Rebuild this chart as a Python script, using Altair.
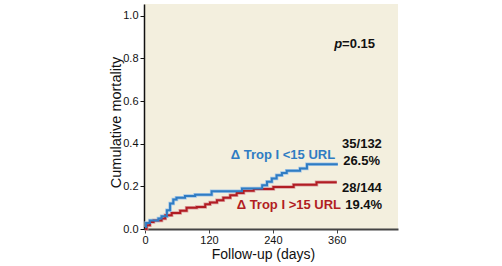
import altair as alt
import pandas as pd

# Step curves (day, cumulative mortality)
blue_days = [0, 2, 9, 25, 31, 41, 47, 53, 59, 75, 94, 125, 182, 220, 229, 238, 247, 257, 266, 291, 304, 362]
blue_vals = [0.009, 0.028, 0.040, 0.049, 0.060, 0.088, 0.119, 0.138, 0.147, 0.155, 0.161, 0.177, 0.190, 0.205, 0.221, 0.237, 0.252, 0.263, 0.273, 0.284, 0.304, 0.304]
red_days = [0, 3, 9, 16, 31, 38, 50, 66, 78, 97, 113, 122, 135, 147, 160, 172, 185, 204, 241, 279, 322, 360]
red_vals = [0.0, 0.017, 0.033, 0.040, 0.049, 0.064, 0.075, 0.085, 0.100, 0.103, 0.116, 0.124, 0.135, 0.147, 0.158, 0.169, 0.179, 0.188, 0.197, 0.208, 0.219, 0.219]

groups = ["Δ Trop I <15 URL", "Δ Trop I >15 URL"]
counts = ["35/132", "28/144"]
pcts = ["26.5%", "19.4%"]
x_ticks = [0, 120, 240, 360]
y_ticks = [0.0, 0.2, 0.4, 0.6, 0.8, 1.0]

BLUE = "#2f7cc3"
BLUE_HALO = "#a3c6e6"
RED = "#b11d23"
RED_HALO = "#dca0a0"
FONT = "Liberation Sans, Arial, sans-serif"

df_blue = pd.DataFrame({"day": blue_days, "val": blue_vals})
df_red = pd.DataFrame({"day": red_days, "val": red_vals})

xs = alt.Scale(domain=[-2, 475], nice=False, zero=False)
ys = alt.Scale(domain=[0, 1.055], nice=False)

x_axis = alt.Axis(values=x_ticks, title="Follow-up (days)", grid=False, domainColor="#444444",
                  domainWidth=2, tickColor="#444444", tickSize=4, labelPadding=1,
                  labelFont=FONT, labelFontSize=11, labelColor="#111111",
                  titleFont=FONT, titleFontSize=14, titleFontWeight="normal", titleColor="#111111",
                  titleX=119, titleY=25, titleBaseline="middle", titleAlign="center")
y_axis = alt.Axis(values=y_ticks, format=".1f", title="Cumulative mortality", grid=False,
                  domainColor="#111111", domainWidth=1.5, tickColor="#111111", tickSize=4,
                  labelPadding=2, labelFont=FONT, labelFontSize=11, labelColor="#111111",
                  titleFont=FONT, titleFontSize=14.5, titleFontWeight="normal", titleColor="#111111",
                  titleX=-28, titleY=118, titleBaseline="middle", titleAlign="center", titleAngle=270)


def step(df, color, width, axis=False):
    enc_x = alt.X("day:Q", scale=xs, axis=x_axis) if axis else alt.X("day:Q", scale=xs)
    enc_y = alt.Y("val:Q", scale=ys, axis=y_axis) if axis else alt.Y("val:Q", scale=ys)
    return alt.Chart(df).mark_line(interpolate="step-after", strokeWidth=width, color=color).encode(
        x=enc_x, y=enc_y)


def label(texts, days, vals, align, color, italic=False):
    d = pd.DataFrame({"t": texts, "day": days, "val": vals})
    kw = dict(align=align, baseline="middle", font=FONT, fontSize=13, fontWeight="bold", color=color)
    if italic:
        kw["fontStyle"] = "italic"
    return alt.Chart(d).mark_text(**kw).encode(
        x=alt.X("day:Q", scale=xs), y=alt.Y("val:Q", scale=ys), text="t:N")


layers = [
    step(df_red, RED_HALO, 3.5, axis=True),
    step(df_blue, BLUE_HALO, 3.5),
    step(df_red, RED, 2),
    step(df_blue, BLUE, 2),
    label([groups[0]], [357], [0.346], "right", BLUE),
    label([groups[1]], [368], [0.111], "right", RED),
    label([counts[0], pcts[0], counts[1], pcts[1]], [370, 372, 370, 376],
          [0.398, 0.318, 0.191, 0.111], "left", "#111111"),
    label(["p"], [370], [0.868], "right", "#111111", italic=True),
    label(["=0.15"], [370], [0.868], "left", "#111111"),
]

chart = alt.layer(*layers).properties(
    width=254, height=225,
    autosize=alt.AutoSizeParams(type="none"),
    padding={"left": 144, "top": 4, "right": 104, "bottom": 37},
    background="white",
).configure_view(fill="#f3efde", stroke=None)

chart.save("out.html", embed_options={"renderer": "svg", "actions": False})
